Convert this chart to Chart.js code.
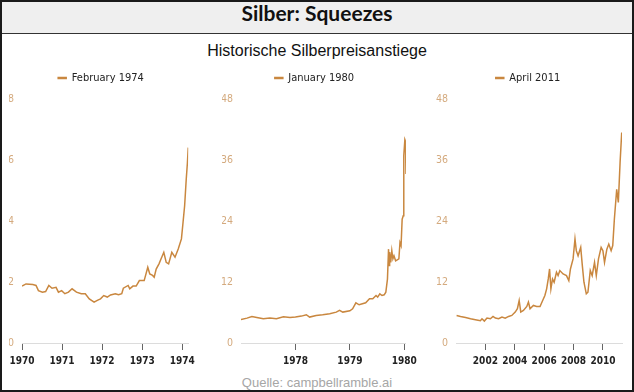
<!DOCTYPE html>
<html>
<head>
<meta charset="utf-8">
<title>Silber: Squeezes</title>
<script src="https://cdn.jsdelivr.net/npm/chart.js@4.4.1/dist/chart.umd.min.js"></script>
<style>
  body { margin: 0; background: #fff; }
  #frame { position: relative; width: 634px; height: 392px; overflow: hidden; background: #fff;
           font-family: 'Liberation Sans', Arial, sans-serif; }
  #border { position: absolute; left: 0; top: 0; width: 634px; height: 392px; box-sizing: border-box;
            border: 2px solid #1a1a1a; z-index: 5; pointer-events: none; }
  #head { position: absolute; left: 0; top: 0; width: 634px; height: 33px; background: #efefef;
          border-bottom: 1px solid #333; text-align: center; line-height: 34px;
          font: 700 21px Lato, 'Open Sans', sans-serif; color: #111; }
  #sub { position: absolute; left: 0; top: 41px; width: 634px; text-align: center;
         font-size: 16px; line-height: 20px; color: #111; }
  #src { position: absolute; left: 0; top: 375px; width: 634px; text-align: center;
         font-size: 13px; line-height: 16px; color: #a6a6a6; }
  canvas { position: absolute; top: 61px; }
</style>
</head>
<body>
<div id="frame">
  <div id="head">Silber: Squeezes</div>
  <div id="sub">Historische Silberpreisanstiege</div>
  <canvas id="c1" width="198" height="312" style="left:2px"></canvas>
  <canvas id="c2" width="210" height="312" style="left:212px"></canvas>
  <canvas id="c3" width="200" height="312" style="left:430px"></canvas>
  <div id="src">Quelle: campbellramble.ai</div>
  <div id="border"></div>
</div>
<script>
// series labels
const seriesLabels = ['February 1974', 'January 1980', 'April 2011'];

// 1970 - Feb 1974 (USD/oz)
const years1974 = [1970.00,1970.10,1970.27,1970.35,1970.41,1970.51,1970.59,1970.67,1970.75,1970.85,
  1970.91,1970.99,1971.07,1971.16,1971.25,1971.36,1971.48,1971.58,1971.68,1971.80,
  1971.88,1971.96,1972.04,1972.13,1972.21,1972.33,1972.41,1972.49,1972.53,1972.65,
  1972.69,1972.77,1972.85,1972.93,1973.05,1973.14,1973.19,1973.26,1973.30,1973.35,
  1973.42,1973.47,1973.54,1973.60,1973.66,1973.74,1973.82,1973.90,1973.98,1974.02,
  1974.06,1974.10,1974.13,1974.15];
const prices1974 = [1.87,1.94,1.92,1.89,1.72,1.67,1.69,1.89,1.80,1.83,
  1.67,1.72,1.62,1.67,1.78,1.67,1.62,1.62,1.45,1.34,
  1.40,1.45,1.56,1.51,1.58,1.62,1.59,1.62,1.80,1.89,
  1.78,1.87,1.87,2.05,2.05,2.49,2.27,2.22,2.16,2.43,
  2.60,2.76,2.98,2.65,2.60,2.98,2.82,3.09,3.42,3.96,
  4.51,5.38,5.93,6.42];

// 1977 - Jan 1980
const years1980 = [1977.00,1977.11,1977.20,1977.29,1977.41,1977.53,1977.65,1977.78,1977.90,1978.00,
  1978.11,1978.20,1978.26,1978.38,1978.50,1978.63,1978.75,1978.81,1978.87,1979.00,
  1979.05,1979.11,1979.17,1979.23,1979.29,1979.36,1979.42,1979.48,1979.51,
  1979.55,1979.59,1979.63,1979.66,1979.69,1979.71,1979.72,1979.73,1979.75,1979.77,
  1979.79,1979.81,1979.84,1979.90,1979.92,1979.94,1979.96,1979.98,1979.99,1980.01,
  1980.02,1980.03];
const prices1980 = [4.65,4.9,5.24,5.04,4.78,4.91,4.78,5.17,5.04,5.11,
  5.30,5.57,5.11,5.44,5.57,5.76,6.09,6.42,6.09,6.35,
  6.75,7.92,7.53,7.73,7.92,8.71,8.71,9.36,9.04,
  9.69,9.36,9.50,10.0,12.6,18.5,15.3,17.9,15.9,18.2,
  16.6,17.2,16.2,16.6,19.8,19.2,24.4,25.1,36.9,40.1,
  39.8,33.3];

// 2000 - Apr 2011
const years2011 = [2000.04,2000.31,2000.65,2000.99,2001.32,2001.66,2001.77,2001.93,2002.11,2002.34,
  2002.52,2002.68,2002.90,2003.13,2003.35,2003.58,2003.80,2004.03,2004.18,2004.30,
  2004.41,2004.59,2004.82,2004.93,2005.04,2005.27,2005.49,2005.72,2005.90,2006.05,
  2006.17,2006.28,2006.37,2006.46,2006.57,2006.68,2006.84,2006.95,2007.07,2007.29,
  2007.52,2007.68,2007.79,2007.97,2008.10,2008.19,2008.31,2008.49,2008.60,2008.71,
  2008.87,2008.98,2009.14,2009.27,2009.43,2009.55,2009.70,2009.88,2010.00,2010.11,
  2010.27,2010.40,2010.56,2010.67,2010.78,2010.94,2011.05,2011.17,2011.28];
const prices2011 = [5.43,5.24,5.04,4.78,4.58,4.39,4.78,4.32,4.91,4.78,
  5.24,4.91,4.78,5.11,4.91,5.24,5.43,6.09,6.75,8.38,
  6.09,6.42,7.20,8.06,6.75,7.40,7.20,7.20,8.38,9.36,
  10.67,12.64,14.6,10.67,12.64,11.98,13.95,13.29,14.28,13.62,
  13.29,12.31,14.6,16.57,20.5,18.2,17.2,18.86,15.26,11.98,
  9.69,10.0,14.28,13.29,15.9,13.29,16.57,18.86,18.2,15.9,
  18.5,19.5,18.2,19.2,24.4,30.3,27.7,35.6,41.5];

// axis ticks
const xTicks1974 = [1970, 1971, 1972, 1973, 1974];
const xTicks1980 = [1978, 1979, 1980];
const xTicks2011 = [2002, 2004, 2006, 2008, 2010];
const yTicks1974 = [0, 2, 4, 6, 8];
const yTicks1980 = [0, 12, 24, 36, 48];
const yTicks2011 = [0, 12, 24, 36, 48];

const condensed = "'DejaVu Sans Condensed', 'Liberation Sans', sans-serif";
const lineColor = '#c9873f';

function makePanel(id, label, years, prices, xTicks, yTicks, xMin, xMax, padL, padR, yWidth) {
  new Chart(document.getElementById(id), {
    type: 'line',
    data: {
      datasets: [{
        label: label,
        data: years.map((x, i) => ({ x: x, y: prices[i] })),
        borderColor: lineColor,
        backgroundColor: lineColor,
        borderWidth: 1.5,
        pointRadius: 0,
        tension: 0,
        fill: false
      }]
    },
    options: {
      responsive: false,
      animation: false,
      devicePixelRatio: 1,
      events: [],
      layout: { padding: { left: padL, right: padR, top: 0, bottom: 0 } },
      plugins: {
        legend: {
          position: 'top',
          labels: { boxWidth: 8, boxHeight: 1, padding: 11.5, color: '#222',
                    font: { family: condensed, size: 11 } }
        },
        // a little room between legend and plot
        subtitle: { display: true, text: '', weight: 500,
                    font: { size: 1, lineHeight: 1 }, padding: { top: 0, bottom: 5 } },
        tooltip: { enabled: false }
      },
      scales: {
        x: {
          type: 'linear',
          min: xMin,
          max: xMax,
          afterBuildTicks: (scale) => { scale.ticks = xTicks.map(v => ({ value: v })); },
          afterFit: (scale) => { scale.height = 30; },
          ticks: { callback: (v) => String(v), color: '#222', padding: 5, maxRotation: 0,
                   font: { family: condensed, size: 10, weight: 'bold' } },
          grid: { drawOnChartArea: false, drawTicks: true, tickLength: 7, color: '#666' },
          border: { display: true, color: '#dcdcdc', width: 1 }
        },
        y: {
          min: yTicks[0],
          max: yTicks[yTicks.length - 1],
          afterBuildTicks: (scale) => { scale.ticks = yTicks.map(v => ({ value: v })); },
          afterFit: (scale) => { scale.width = yWidth; },
          ticks: { color: '#d4aa7e', padding: 8, font: { family: condensed, size: 10.5 } },
          grid: { display: false, drawTicks: false },
          border: { display: false }
        }
      }
    }
  });
}

makePanel('c1', seriesLabels[0], years1974, prices1974, xTicks1974, yTicks1974, 1970, 1974.15, 7, 7, 13);
makePanel('c2', seriesLabels[1], years1980, prices1980, xTicks1980, yTicks1980, 1977.0, 1980.03, 10, 15, 19);
makePanel('c3', seriesLabels[2], years2011, prices2011, xTicks2011, yTicks2011, 2000.0, 2011.3, 4, 8, 22);
</script>
</body>
</html>
